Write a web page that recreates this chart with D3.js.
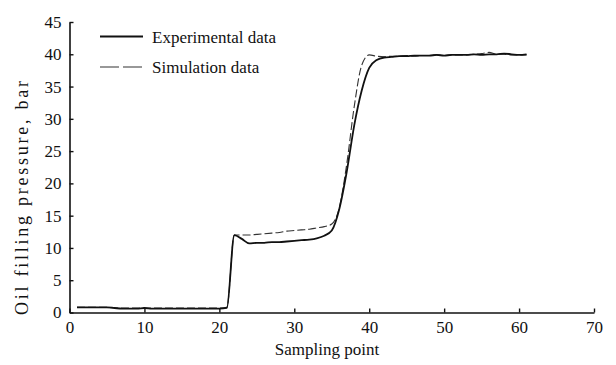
<!DOCTYPE html>
<html>
<head>
<meta charset="utf-8">
<script src="https://cdn.jsdelivr.net/npm/d3@7"></script>
<style>
  html, body { margin: 0; padding: 0; background: #fff; }
  svg { display: block; }
  text { font-family: "Liberation Serif", "Times New Roman", serif; fill: #111; }
</style>
</head>
<body>
<svg id="chart" width="616" height="365"></svg>
<script>
// ---- data ----
const samplingPoints = d3.range(1, 62); // 1 .. 61

const experimentalData = [
  0.8, 0.8, 0.8, 0.8, 0.8, 0.7, 0.6, 0.6, 0.6, 0.7,
  0.6, 0.6, 0.6, 0.6, 0.6, 0.6, 0.6, 0.6, 0.6, 0.6,
  0.7, 12.0, 11.4, 10.7, 10.8, 10.8, 10.9, 10.9, 11.0, 11.1,
  11.2, 11.3, 11.5, 11.9, 12.7, 16.0, 21.8, 29.0, 34.4, 37.9,
  39.1, 39.5, 39.6, 39.7, 39.7, 39.8, 39.8, 39.8, 39.9, 39.8,
  39.9, 39.9, 39.9, 40.0, 39.9, 40.0, 40.0, 40.1, 40.0, 39.9,
  40.0
];

const simulationData = [
  0.8, 0.8, 0.8, 0.8, 0.8, 0.7, 0.7, 0.7, 0.7, 0.7,
  0.7, 0.7, 0.7, 0.7, 0.7, 0.7, 0.7, 0.7, 0.7, 0.7,
  0.8, 12.0, 12.0, 12.0, 12.1, 12.2, 12.3, 12.4, 12.6, 12.7,
  12.8, 12.9, 13.1, 13.3, 13.7, 16.2, 23.0, 31.9, 38.3, 39.9,
  39.7, 39.6, 39.7, 39.7, 39.8, 39.7, 39.8, 39.8, 39.9, 39.8,
  39.9, 39.9, 39.9, 40.0, 40.1, 40.3, 40.0, 40.0, 39.9, 39.9,
  39.9
];

const xTicks = [0, 10, 20, 30, 40, 50, 60, 70];
const yTicks = [0, 5, 10, 15, 20, 25, 30, 35, 40, 45];
const seriesNames = ["Experimental data", "Simulation data"];
const xTitle = "Sampling point";
const yTitle = "Oil filling pressure, bar";

// ---- drawing ----
const svg = d3.select("#chart");
const x = d3.scaleLinear().domain([0, 70]).range([69.5, 594]);
const y = d3.scaleLinear().domain([0, 45]).range([312.5, 22]);

const fontSize = 17;
const serif = '"Liberation Serif", "Times New Roman", serif';

// axes
const xAxis = d3.axisBottom(x).tickValues(xTicks).tickSize(-4).tickSizeOuter(0).tickPadding(8);
const yAxis = d3.axisLeft(y).tickValues(yTicks).tickSize(-4).tickSizeOuter(0).tickPadding(8);

const gx = svg.append("g").attr("transform", `translate(0,${y(0)})`).call(xAxis);
const gy = svg.append("g").attr("transform", `translate(${x(0)},0)`).call(yAxis);
[gx, gy].forEach(g => {
  g.attr("font-family", serif).attr("font-size", fontSize);
  g.selectAll("path.domain").attr("stroke", "#111").attr("stroke-width", 1.6);
  g.selectAll(".tick line").attr("stroke", "#111").attr("stroke-width", 1.4);
  g.selectAll(".tick text")
    .attr("font-family", serif)
    .attr("font-size", fontSize)
    .attr("fill", "#111");
});

// lines
const lineGen = d3.line()
  .x((d, i) => x(samplingPoints[i]))
  .y(d => y(d))
  .curve(d3.curveMonotoneX);

svg.append("path")
  .datum(simulationData)
  .attr("fill", "none")
  .attr("stroke", "#333")
  .attr("stroke-width", 1.1)
  .attr("stroke-dasharray", "8,3")
  .attr("d", lineGen);

svg.append("path")
  .datum(experimentalData)
  .attr("fill", "none")
  .attr("stroke", "#111")
  .attr("stroke-width", 1.8)
  .attr("d", lineGen);

// legend
const legend = svg.append("g");
const legendRows = [
  { name: seriesNames[0], yy: 36.5, dash: null, w: 1.8, c: "#111" },
  { name: seriesNames[1], yy: 67, dash: "19,4", w: 1.1, c: "#333" }
];
legendRows.forEach(r => {
  legend.append("line")
    .attr("x1", 100).attr("x2", 143)
    .attr("y1", r.yy).attr("y2", r.yy)
    .attr("stroke", r.c).attr("stroke-width", r.w)
    .attr("stroke-dasharray", r.dash);
  legend.append("text")
    .attr("x", 152).attr("y", r.yy + 6)
    .attr("font-family", serif)
    .attr("font-size", fontSize)
    .text(r.name);
});

// axis titles
svg.append("text")
  .attr("x", 327).attr("y", 355)
  .attr("text-anchor", "middle")
  .attr("font-family", serif)
  .attr("font-size", fontSize)
  .text(xTitle);

svg.append("text")
  .attr("transform", "translate(28,198) rotate(-90)")
  .attr("text-anchor", "middle")
  .attr("font-family", serif)
  .attr("font-size", 18)
  .attr("textLength", 234)
  .attr("lengthAdjust", "spacing")
  .text(yTitle);
</script>
</body>
</html>
